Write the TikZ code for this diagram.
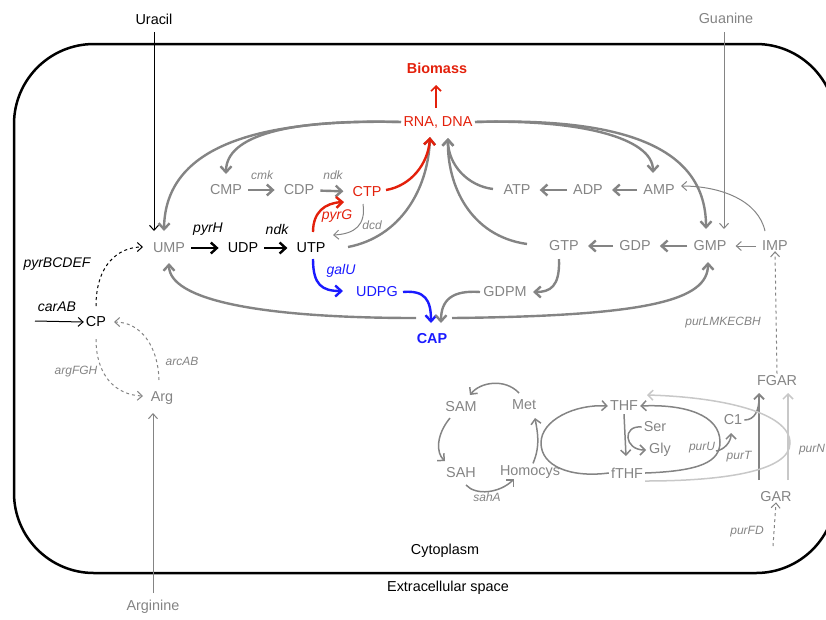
\documentclass[tikz,border=0pt]{standalone}
\usepackage{fontspec}
\setmainfont{Liberation Sans}
\usetikzlibrary{arrows.meta}
\definecolor{mg}{HTML}{848484}
\definecolor{lg}{HTML}{C8C8C8}
\definecolor{rd}{HTML}{E3200B}
\definecolor{bu}{HTML}{1A1AFF}
\newcommand{\bigf}{\fontsize{14.4}{16}\selectfont}
\newcommand{\smf}{\fontsize{12}{14}\selectfont\itshape}
\newcommand{\enf}{\fontsize{14}{16}\selectfont\itshape}
\begin{document}
\begin{tikzpicture}[x=1pt,y=-1pt,
 every node/.style={inner sep=2pt, anchor=center},
 mgt/.style={font=\bigf, text=mg},
 blt/.style={font=\bigf, text=black},
 rdt/.style={font=\bigf, text=rd},
 but/.style={font=\bigf, text=bu},
 sen/.style={font=\smf, text=mg},
 ben/.style={font=\enf, text=black},
 garr/.style={draw=mg, line width=2.4pt, -{Straight Barb[length=6pt,width=11pt]}},
 barr/.style={draw=black, line width=2.4pt, -{Straight Barb[length=6pt,width=11pt]}},
 rarr/.style={draw=rd, line width=2.4pt, -{Straight Barb[length=6pt,width=11pt]}},
 uarr/.style={draw=bu, line width=2.4pt, -{Straight Barb[length=6pt,width=11pt]}},
 marr/.style={draw=mg, line width=1.5pt, -{Straight Barb[length=5pt,width=10pt]}},
 tarr/.style={draw=mg, line width=1pt, -{Straight Barb[length=5pt,width=9pt]}},
 tbarr/.style={draw=black, line width=1pt, -{Straight Barb[length=5pt,width=9pt]}},
 larr/.style={draw=lg, line width=1.5pt, -{Straight Barb[length=5pt,width=10pt]}},
 sh/.style={shorten <=4pt, shorten >=7pt}
]
\useasboundingbox (0,0) rectangle (826,619);
\clip (0,0) rectangle (826,619);
% membrane
\draw[line width=2.5pt, rounded corners=80pt] (14,44) rectangle (836,573);

% nodes
\node[blt] (ura) at (154,19) {Uracil};
\node[mgt] (gua) at (726,18) {Guanine};
\node[font=\bigf\bfseries, text=rd] (bio) at (437,68) {Biomass};
\node[rdt] (rna) at (438,122) {RNA, DNA};
\node[mgt] (cmp) at (226,190) {CMP};
\node[mgt] (cdp) at (299,190) {CDP};
\node[rdt] (ctp) at (367,192) {CTP};
\node[sen] (cmk) at (262,175) {cmk};
\node[sen] (ndka) at (333,175) {ndk};
\node[mgt] (atp) at (517,190) {ATP};
\node[mgt] (adp) at (588,190) {ADP};
\node[mgt] (amp) at (659,190) {AMP};
\node[mgt] (ump) at (169,248) {UMP};
\node[blt] (udp) at (243,248) {UDP};
\node[blt] (utp) at (311,248) {UTP};
\node[ben] (pyrh) at (208,229) {pyrH};
\node[ben] (ndkb) at (277,229) {ndk};
\node[font=\enf, text=rd] (pyrg) at (337,216) {pyrG};
\node[sen] (dcd) at (372,225) {dcd};
\node[mgt] (gtp) at (564,246) {GTP};
\node[mgt] (gdp) at (635,246) {GDP};
\node[mgt] (gmp) at (710,246) {GMP};
\node[mgt] (imp) at (775,246) {IMP};
\node[font=\enf, text=bu] (galu) at (341,271) {galU};
\node[but] (udpg) at (377,292) {UDPG};
\node[mgt] (gdpm) at (505,292) {GDPM};
\node[font=\bigf\bfseries, text=bu] (cap) at (432,339) {CAP};
\node[ben] (pyrb) at (57,264) {pyrBCDEF};
\node[ben] (carab) at (57,307) {carAB};
\node[blt] (cp) at (96,322) {CP};
\node[sen] (argfgh) at (76,372) {argFGH};
\node[sen] (arcab) at (182,361) {arcAB};
\node[mgt] (arg) at (162,398) {Arg};
\node[mgt] (argn) at (153,607) {Arginine};
\node[sen] (purl) at (723,323) {purLMKECBH};
\node[mgt] (fgar) at (777,381) {FGAR};
\node[mgt] (gar) at (776,497) {GAR};
\node[sen] (purfd) at (747,532) {purFD};
\node[mgt] (sam) at (461,407) {SAM};
\node[mgt] (met) at (524,405) {Met};
\node[mgt] (thf) at (624,406) {THF};
\node[mgt] (ser) at (655,427) {Ser};
\node[mgt] (gly) at (660,450) {Gly};
\node[mgt] (c1) at (733,420) {C1};
\node[sen] (puru) at (702,448) {purU};
\node[sen] (purt) at (739,457) {purT};
\node[sen] (purn) at (812,450) {purN};
\node[mgt] (sah) at (461,473) {SAH};
\node[mgt] (homo) at (530,472) {Homocys};
\node[mgt] (fthf) at (627,473) {fTHF};
\node[sen] (saha) at (487,497) {sahA};
\node[blt] (cyto) at (445,551) {Cytoplasm};
\node[blt] (extra) at (448,588) {Extracellular space};

% coordinates
\coordinate (ura0) at (154,32);
\coordinate (ura1) at (154,231);
\coordinate (gua0) at (724,32);
\coordinate (gua1) at (724,229);
\coordinate (rnaw) at (401,122);
\coordinate (rnae) at (475,122);
\coordinate (rnan) at (436,108);
\coordinate (biotip) at (436,85);
\coordinate (tipR) at (430,137);
\coordinate (tipG) at (448,138);
\coordinate (capw) at (416,318);
\coordinate (cape) at (452,318);
\coordinate (capt1) at (431,323);
\coordinate (capt2) at (441,323);
\coordinate (carab0) at (35,321);
\coordinate (argn0) at (153,593);
\coordinate (argtip) at (153,413);
\coordinate (gar0) at (759,480);
\coordinate (fgar0) at (759,393);
\coordinate (gar1) at (788,480);
\coordinate (fgar1) at (788,393);
\coordinate (fd0) at (773,546);
\coordinate (lend) at (541,443);

% membrane crossings
\draw[tbarr] (ura0) -- (ura1);
\draw[tarr] (gua0) -- (gua1);
\draw[tarr] (argn0) -- (argtip);

% biomass
\draw[draw=rd, line width=1.6pt, -{Straight Barb[length=5pt,width=10pt]}] (rnan) -- (biotip);

% from RNA/DNA
\draw[garr] (rnaw) .. controls (260,119) and (165,145) .. (164,231);
\draw[garr] (rnaw) .. controls (290,119) and (226,135) .. (226,174);
\draw[garr] (rnae) .. controls (580,119) and (653,138) .. (653,173);
\draw[garr] (rnae) .. controls (630,117) and (706,150) .. (706,229);

% into RNA/DNA
\draw[garr] (348,247) .. controls (400,237) and (428,190) .. (tipR);
\draw[rarr] (386,190) .. controls (410,186) and (428,165) .. (tipR);
\draw[garr] (493,189) .. controls (468,186) and (448,165) .. (tipG);
\draw[garr] (527,244) .. controls (470,236) and (447,185) .. (tipG);

% CMP row
\draw[garr, sh] (cmp) -- (cdp);
\draw[garr, sh] (cdp) -- (ctp);
% ATP row
\draw[garr, sh] (adp) -- (atp);
\draw[garr, sh] (amp) -- (adp);
% GTP row
\draw[garr, sh] (gdp) -- (gtp);
\draw[garr, sh] (gmp) -- (gdp);
\draw[tarr, sh] (imp) -- (gmp);
\draw[tarr] (765,231) .. controls (758,200) and (720,186) .. (681,186);

% UMP row
\draw[barr, sh] (ump) -- (udp);
\draw[barr, sh] (udp) -- (utp);
\draw[rarr] (313,232) .. controls (313,212) and (325,203) .. (344,202);
\draw[tarr] (363,204) .. controls (366,225) and (355,234) .. (333,235);

% UDPG / CAP
\draw[uarr] (313,259) .. controls (313,285) and (322,291) .. (343,291);
\draw[uarr] (403,292) .. controls (425,290) and (431,300) .. (capt1);
\draw[garr] (480,292) .. controls (452,290) and (441,300) .. (capt2);
\draw[garr] (559,259) .. controls (560,287) and (550,292) .. (533,292);
\draw[garr] (capw) .. controls (260,318) and (169,300) .. (169,263);
\draw[garr] (cape) .. controls (650,316) and (708,300) .. (708,262);

% CP region
\draw[tbarr] (carab0) -- (cp.west);
\draw[tbarr, dashed] (96,306) .. controls (96,265) and (118,247) .. (143,247);
\draw[tarr, dashed] (96,339) .. controls (96,375) and (115,395) .. (143,396);
\draw[tarr, dashed] (159,380) .. controls (158,345) and (140,322) .. (114,322);

% purine
\draw[tarr, dashed] (fgar.north) -- ([yshift=2pt]imp.south);
\draw[larr] (gar1) -- (fgar1);
\draw[draw=mg, line width=1.8pt, -{Straight Barb[length=5pt,width=10pt]}] (gar0) -- (fgar0);
\draw[tarr, dashed] (fd0) -- ([yshift=2pt]gar.south);
\draw[draw=mg, line width=1.5pt] (c1.east) .. controls (755,420) and (759,410) .. (759,398);
\draw[marr] (716,451) .. controls (724,450) and (731,442) .. (731,433);

% THF cycles
\draw[marr] (fthf.west) .. controls (570,478) and (541,466) .. (lend) .. controls (541,420) and (575,404) .. (thf.west);
\draw[marr] (fthf.east) .. controls (700,471) and (720,462) .. (720,442) .. controls (720,415) and (685,404) .. (thf.east);
\draw[larr] (645,481) .. controls (720,481) and (790,472) .. (790,443) .. controls (790,412) and (720,397) .. (647,395);
\draw[marr] ([yshift=-1pt]thf.south) -- (626,456);
\draw[marr] (ser.west) .. controls (622,425) and (624,450) .. (646,450);
\draw[marr] (homo.north) ++(3,0) .. controls (541,445) and (537,430) .. (535,418);
\draw[marr] (519,393) .. controls (505,378) and (480,382) .. (470,395);
\draw[marr] (450,418) .. controls (436,435) and (436,453) .. (445,461);
\draw[marr] (466,485) .. controls (476,496) and (500,493) .. (514,479);

\end{tikzpicture}
\end{document}
